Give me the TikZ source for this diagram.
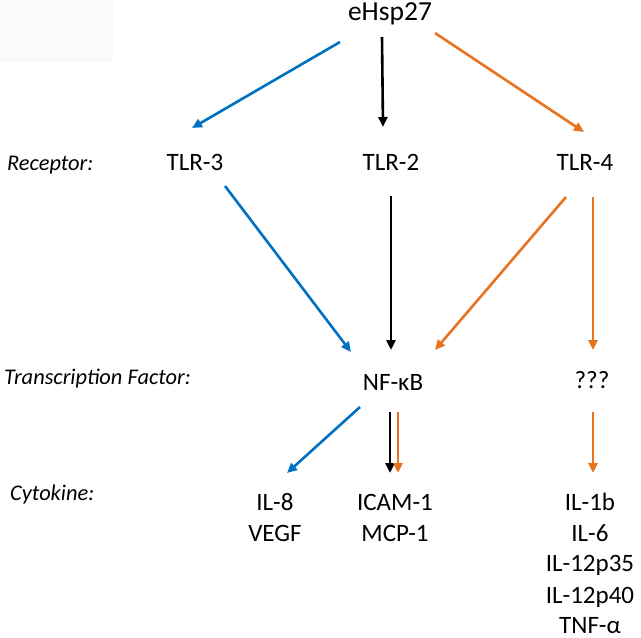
\documentclass[tikz,border=0pt]{standalone}
\usepackage{fontspec}
\setmainfont{Carlito}
\usetikzlibrary{arrows.meta}
\definecolor{cblue}{RGB}{0,112,192}
\definecolor{corange}{RGB}{232,115,30}
\begin{document}
\begin{tikzpicture}[x=1pt,y=-1pt,
  every node/.style={inner sep=0pt,anchor=base},
  item/.style={font=\fontsize{25}{30}\selectfont},
  toplbl/.style={font=\fontsize{27.5}{32}\selectfont},
  rowlbl/.style={anchor=base west,font=\fontsize{22.4}{26}\selectfont\itshape},
  link/.style={line width=2.6pt,-{Triangle[length=10pt,width=9pt]}},
  lblue/.style={link,draw=cblue,cblue},
  lblack/.style={link,draw=black,black},
  lorange/.style={link,draw=corange,corange}]
\useasboundingbox (0,0) rectangle (641,638);
\fill[black!2] (0,0) rectangle (113,62);
% nodes
\node[toplbl] (eh) at (390,20) {eHsp27};
\node[rowlbl] (rec) at (7,170) {Receptor:};
\node[item] (tlr3) at (195,170) {TLR-3};
\node[item] (tlr2) at (391,170) {TLR-2};
\node[item] (tlr4) at (585,170) {TLR-4};
\node[rowlbl] (tf) at (4,384) {Transcription Factor:};
\node[item] (nfkb) at (393,390) {NF-κB};
\node[item] (q) at (592,388) {???};
\node[rowlbl] (cyt) at (10,500) {Cytokine:};
\node[item] (il8) at (275,510) {IL-8};
\node[item] (vegf) at (275,541) {VEGF};
\node[item] (icam) at (395,510) {ICAM-1};
\node[item] (mcp) at (395,541) {MCP-1};
\node[item] (il1b) at (590,510) {IL-1b};
\node[item] (il6) at (590,541) {IL-6};
\node[item] (ila) at (590,571) {IL-12p35};
\node[item] (ilb) at (590,603) {IL-12p40};
\node[item] (tnf) at (590,633) {TNF-α};
% connectors
\draw[lblue]   ([shift={(-50,22)}]eh.base) -- ([shift={(-3,-42)}]tlr3.base);
\draw[lblack]  ([shift={(-8,17)}]eh.base) -- ([shift={(-8,-43)}]tlr2.base);
\draw[lorange] ([shift={(45,13)}]eh.base) -- ([shift={(-1,-38)}]tlr4.base);
\draw[lblue]   ([shift={(30,16)}]tlr3.base) -- ([shift={(-42,-38)}]nfkb.base);
\draw[lblack]  ([shift={(0,26)}]tlr2.base) -- ([shift={(-2,-40)}]nfkb.base);
\draw[lorange] ([shift={(-19,27)}]tlr4.base) -- ([shift={(42,-40)}]nfkb.base);
\draw[lorange] ([shift={(8,27)}]tlr4.base) -- ([shift={(1,-38)}]q.base);
\draw[lblue]   ([shift={(-33,17)}]nfkb.base) -- ([shift={(12,-37)}]il8.base);
\draw[lblack]  ([shift={(-3,22)}]nfkb.base) -- ([shift={(-5,-37)}]icam.base);
\draw[lorange] ([shift={(5,22)}]nfkb.base) -- ([shift={(3,-37)}]icam.base);
\draw[lorange] ([shift={(1,24)}]q.base) -- ([shift={(3,-37)}]il1b.base);
\end{tikzpicture}
\end{document}
